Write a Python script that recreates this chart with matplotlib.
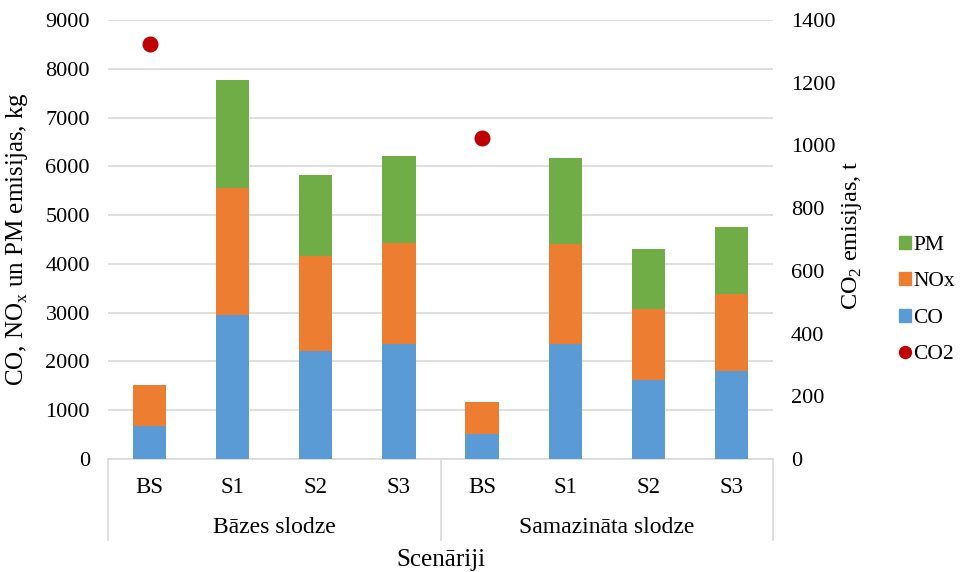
import matplotlib
matplotlib.use("Agg")
import matplotlib.pyplot as plt
from matplotlib.lines import Line2D
from matplotlib.patches import Patch
import numpy as np

plt.rcParams['font.family'] = ['Liberation Serif', 'DejaVu Serif']

groups = ["Bāzes slodze", "Samazināta slodze"]
scenarios = ["BS", "S1", "S2", "S3"]

# emissions per scenario, kg (base load, then reduced load)
co = [670, 2945, 2205, 2350, 515, 2350, 1625, 1795]
nox = [850, 2605, 1950, 2080, 650, 2065, 1440, 1595]
pm = [0, 2220, 1670, 1775, 0, 1765, 1240, 1360]
# CO2 emissions, t (only the baseline scenario)
co2 = [1325, np.nan, np.nan, np.nan, 1025, np.nan, np.nan, np.nan]

c_co = "#5b9bd5"
c_nox = "#ed7d31"
c_pm = "#70ad47"
c_co2 = "#c00000"
grid_c = "#d9d9d9"

fig = plt.figure(figsize=(9.6, 5.72), dpi=100)
ax = fig.add_axes([108 / 960, 1 - 459 / 572, 665 / 960, 439 / 572])
ax2 = ax.twinx()

x = np.arange(len(co))
w = 0.4
co_a = np.array(co)
nox_a = np.array(nox)
pm_a = np.array(pm)
ax.bar(x, co_a, w, color=c_co, zorder=3)
ax.bar(x, nox_a, w, bottom=co_a, color=c_nox, zorder=3)
ax.bar(x, pm_a, w, bottom=co_a + nox_a, color=c_pm, zorder=3)
ax2.plot(x, co2, 'o', color=c_co2, markersize=10.5, zorder=4)

ax.set_xlim(-0.5, len(co) - 0.5)
ax.set_ylim(0, 9000)
ax.set_yticks(np.arange(0, 9001, 1000))
ax2.set_ylim(0, 1400)
ax2.set_yticks(np.arange(0, 1401, 200))

ax.yaxis.grid(True, color=grid_c, linewidth=1.2, zorder=0)
ax.set_axisbelow(True)
for a in (ax, ax2):
    for s in ("top", "left", "right"):
        a.spines[s].set_visible(False)
    a.spines["bottom"].set_color(grid_c)
    a.spines["bottom"].set_linewidth(1.2)
    a.tick_params(axis="y", length=0, labelsize=16, pad=13)
ax2.spines["bottom"].set_visible(False)

# two-level category axis
ax.set_xticks([])
trans = ax.get_xaxis_transform()
labels = scenarios * len(groups)
for i, lab in enumerate(labels):
    ax.text(i, -0.066, lab, transform=trans, ha="center", va="center", fontsize=16.5)
for g, name in enumerate(groups):
    ax.text(g * 4 + 1.5, -0.157, name, transform=trans, ha="center", va="center", fontsize=17)
for xb in (-0.5, 3.5, 7.5):
    ax.add_line(Line2D([xb, xb], [0, -0.185], transform=trans, color=grid_c,
                       linewidth=1.2, clip_on=False))
ax.text(3.5, -0.23, "Scenāriji", transform=trans, ha="center", va="center", fontsize=18)

ax.set_ylabel("CO, NO$_\\mathregular{x}$ un PM emisijas, kg", fontsize=18)
ax.yaxis.set_label_coords(-0.117, 0.5)
ax2.set_ylabel("CO$_\\mathregular{2}$ emisijas, t", fontsize=17.5)
ax2.yaxis.set_label_coords(1.101, 0.51)

handles = [Patch(color=c_pm, label="PM"), Patch(color=c_nox, label="NOx"),
           Patch(color=c_co, label="CO"),
           Line2D([], [], marker="o", linestyle="", color=c_co2, markersize=8.6, label="CO2")]
fig.legend(handles=handles, loc="center left", bbox_to_anchor=(899 / 960, 1 - 300 / 572),
           frameon=False, fontsize=15.5, handlelength=0.55, handleheight=0.55,
           handletextpad=0.12, labelspacing=0.8, borderaxespad=0, borderpad=0)

fig.savefig("out.png", dpi=100)
